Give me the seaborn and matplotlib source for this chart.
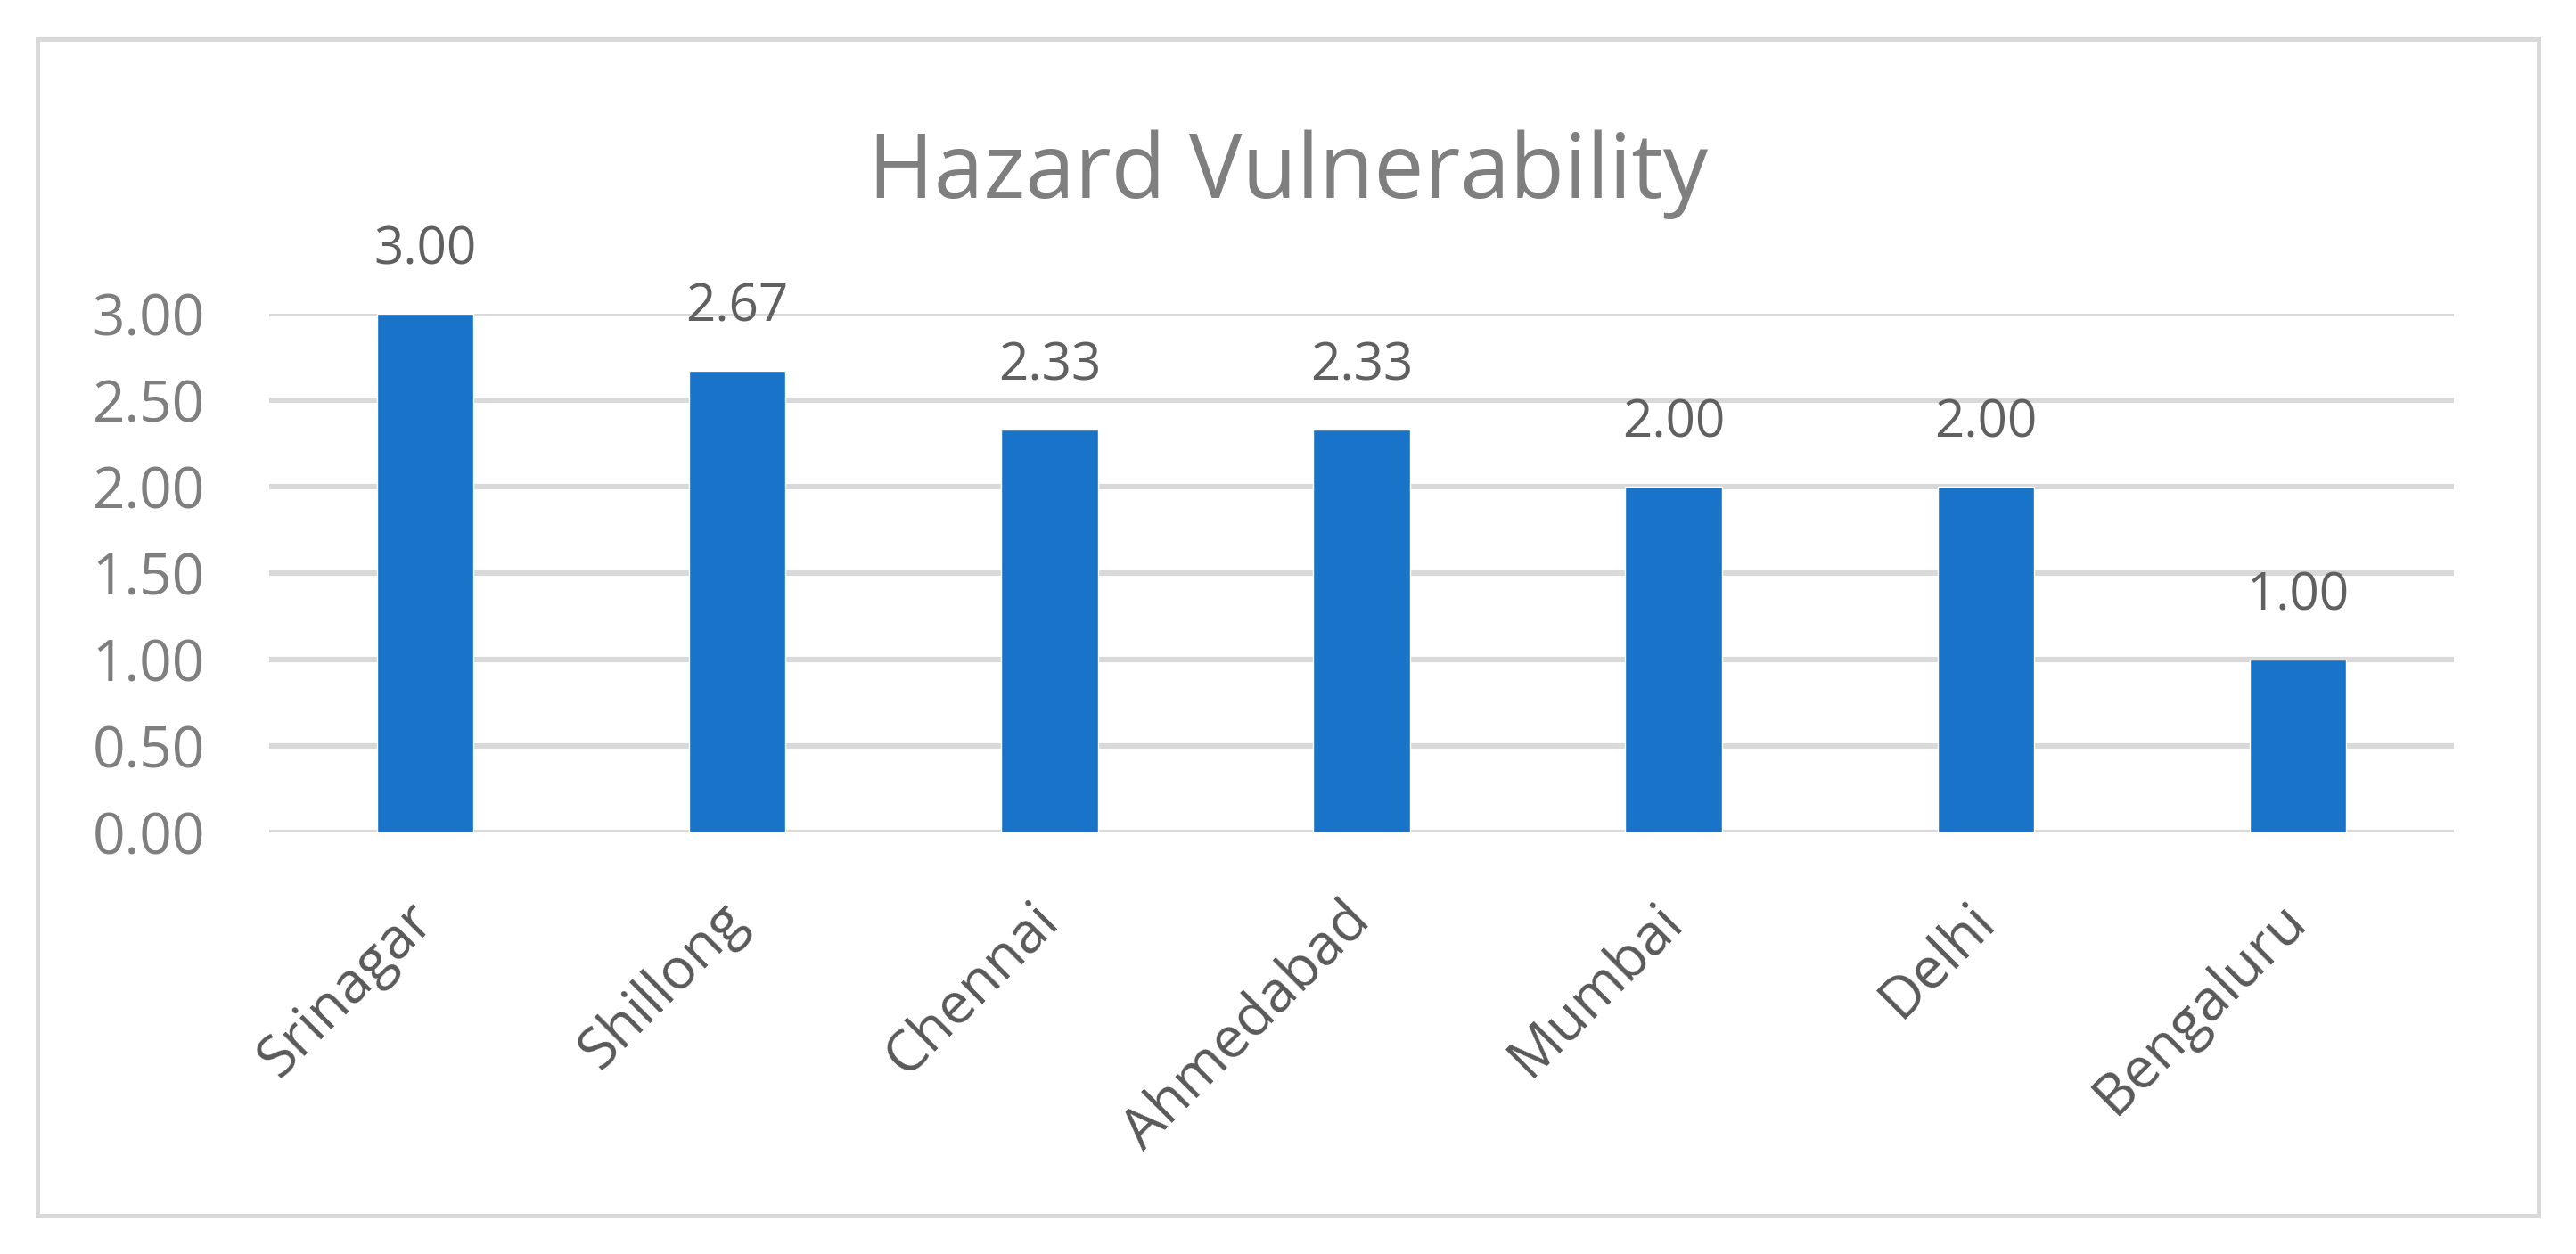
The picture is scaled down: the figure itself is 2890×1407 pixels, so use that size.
#!/usr/bin/env python3
# -*- coding: utf-8 -*-
import numpy as np
import pandas as pd
import matplotlib
matplotlib.use('Agg')
import matplotlib.pyplot as plt
from matplotlib.patches import Rectangle
import seaborn as sns

#%% Data
cities = ['Srinagar', 'Shillong', 'Chennai', 'Ahmedabad', 'Mumbai', 'Delhi', 'Bengaluru']
hazard = [3.00, 2.67, 2.33, 2.33, 2.00, 2.00, 1.00]
yticks = [0.0, 0.5, 1.0, 1.5, 2.0, 2.5, 3.0]
title = 'Hazard Vulnerability'

df = pd.DataFrame({'city': cities, 'hazard': hazard})

#%% Style
sns.set_theme(style='white')
plt.rcParams['font.family'] = ['Open Sans', 'DejaVu Sans']

BLUE = '#1873c9'
GRID = '#d9d9d9'

fig = plt.figure(figsize=(28.9, 14.07), dpi=100)
ax = fig.add_axes([0.1045, 0.3362, 0.8481, 0.4136])

sns.barplot(data=df, x='city', y='hazard', color=BLUE, saturation=1,
            width=0.31, ax=ax)

ax.set_ylim(0, 3)
ax.set_yticks(yticks)
ax.set_yticklabels(['%.2f' % t for t in yticks])
ax.yaxis.grid(True, color=GRID, linewidth=4.4)
ax.set_axisbelow(True)
for s in ax.spines.values():
    s.set_visible(False)
ax.set_xlabel('')
ax.set_ylabel('')

ax.tick_params(axis='y', length=0, pad=52, labelsize=46, labelcolor='#7f7f7f')
ax.tick_params(axis='x', length=0, pad=64, labelsize=46, labelcolor='#595959')
for lab in ax.get_xticklabels():
    lab.set_rotation(45)
    lab.set_ha('right')
    lab.set_va('center')
    lab.set_rotation_mode('anchor')

# data labels over the bars
for p, v in zip(ax.patches, hazard):
    ax.annotate('%.2f' % v, (p.get_x() + p.get_width() / 2, p.get_height()),
                xytext=(0, 51), textcoords='offset points', ha='center',
                va='center', fontsize=42, color='#606060', annotation_clip=False)

fig.text(0.5, 0.861, title, ha='center', va='center', fontsize=72, color='#7f7f7f')

# chart border
fig.patches.append(Rectangle((0.0145, 0.0306), 0.971, 0.9381, transform=fig.transFigure,
                             fill=False, edgecolor=GRID, linewidth=3.6))

fig.savefig('out.png', dpi=100, facecolor='white')
